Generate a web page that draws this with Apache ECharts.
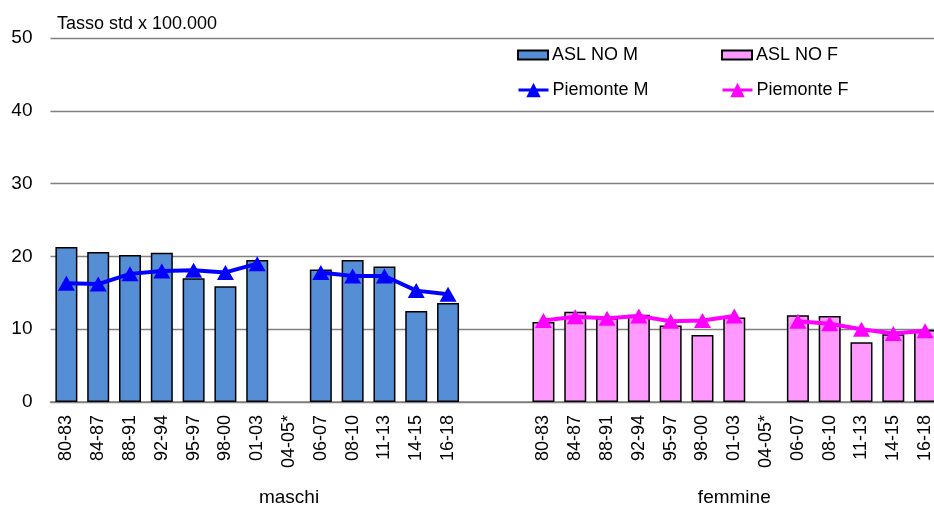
<!DOCTYPE html>
<html>
<head>
<meta charset="utf-8">
<script src="https://cdn.jsdelivr.net/npm/echarts@6/dist/echarts.min.js"></script>
<style>
html,body{margin:0;padding:0;background:#fff;}
#chart{width:934px;height:506px;}
</style>
</head>
<body>
<div id="chart"></div>
<script>
// Periods (tick labels)
const periods = ['80-83','84-87','88-91','92-94','95-97','98-00','01-03','04-05*','06-07','08-10','11-13','14-15','16-18'];
const groupLabels = ['maschi', 'femmine'];
// Values (tasso std x 100.000)
const aslM = [21.3, 20.6, 20.2, 20.5, 17.0, 15.9, 19.5, null, 18.2, 19.5, 18.6, 12.5, 13.6];
const pieM = [16.3, 16.2, 17.6, 18.0, 18.1, 17.8, 19.0, null, 17.8, 17.3, 17.3, 15.3, 14.8];
const aslF = [11.0, 12.4, 11.5, 12.0, 10.5, 9.2, 11.6, null, 11.9, 11.8, 8.2, 9.3, 9.9];
const pieF = [11.2, 11.7, 11.5, 11.8, 11.1, 11.2, 11.8, null, 11.1, 10.75, 10.0, 9.4, 9.8];
const yTicks = [0, 10, 20, 30, 40, 50];

// Build 28-slot category axis: male block, 2 empty slots, female block
const gap = [null, null];
const categories = periods.concat(['', ''], periods);
const fill = (arr) => arr.map(() => null);
const aslMData = aslM.concat(gap, fill(aslF));
const pieMData = pieM.concat(gap, fill(pieF));
const aslFData = fill(aslM).concat(gap, aslF);
const pieFData = fill(pieM).concat(gap, pieF);

const FONT = 'Liberation Sans, Arial, sans-serif';
const chart = echarts.init(document.getElementById('chart'), null, {renderer: 'canvas'});
const legendBase = {
  orient: 'vertical',
  itemGap: 18,
  textStyle: {fontFamily: FONT, fontSize: 18, color: '#000', padding: [0, 0, 0, -1]},
  itemWidth: 30
};
chart.setOption({
  animation: false,
  backgroundColor: '#fff',
  textStyle: {fontFamily: FONT},
  title: {
    text: 'Tasso std x 100.000',
    left: 52, top: 10,
    textStyle: {fontFamily: FONT, fontSize: 18, fontWeight: 'normal', color: '#000'}
  },
  legend: [
    Object.assign({}, legendBase, {left: 512, top: 41, itemHeight: 9, icon: 'rect', data: ['ASL NO M']}),
    Object.assign({}, legendBase, {left: 716, top: 41, itemHeight: 9, icon: 'rect', data: ['ASL NO F']}),
    Object.assign({}, legendBase, {left: 512, top: 76, itemHeight: 18, lineStyle: {width: 3}, data: ['Piemonte M']}),
    Object.assign({}, legendBase, {left: 716, top: 76, itemHeight: 18, lineStyle: {width: 3}, data: ['Piemonte F']})
  ],
  grid: {left: 50.5, width: 890.5, top: 38, bottom: 104, containLabel: false, outerBoundsMode: 'none'},
  xAxis: [{
    type: 'category',
    data: categories,
    boundaryGap: true,
    axisLine: {show: true, lineStyle: {color: '#808080', width: 1.5}},
    axisTick: {show: false},
    axisLabel: {rotate: 90, interval: 0, margin: 13, fontSize: 18, color: '#000', fontFamily: FONT}
  }, {
    type: 'category',
    data: categories,
    position: 'bottom',
    boundaryGap: true,
    axisLine: {show: false},
    axisTick: {show: false},
    splitLine: {show: false},
    axisLabel: {
      interval: 0, margin: 86, fontSize: 19, color: '#000', fontFamily: FONT,
      formatter: (v, i) => (i === 7 ? groupLabels[0] : (i === 21 ? groupLabels[1] : ''))
    }
  }],
  yAxis: {
    type: 'value',
    min: yTicks[0], max: yTicks[yTicks.length - 1], interval: 10,
    axisLine: {show: false},
    axisTick: {show: false},
    splitLine: {lineStyle: {color: '#808080', width: 1.3}},
    axisLabel: {margin: 18, fontSize: 19, color: '#000', fontFamily: FONT}
  },
  series: [
    {
      name: 'ASL NO M', type: 'bar', data: aslMData, barWidth: 22, barGap: '-100%',
      itemStyle: {color: '#558ED5', borderColor: '#000', borderWidth: 1.5}
    },
    {
      name: 'ASL NO F', type: 'bar', data: aslFData, barWidth: 22, barGap: '-100%',
      itemStyle: {color: '#FF99FF', borderColor: '#000', borderWidth: 1.5}
    },
    {
      name: 'Piemonte M', type: 'line', data: pieMData, connectNulls: false,
      symbol: 'triangle', symbolSize: [17, 15],
      lineStyle: {color: '#0000FF', width: 4},
      itemStyle: {color: '#0000FF'}
    },
    {
      name: 'Piemonte F', type: 'line', data: pieFData, connectNulls: false,
      symbol: 'triangle', symbolSize: [17, 15],
      lineStyle: {color: '#FF00FF', width: 4},
      itemStyle: {color: '#FF00FF'}
    }
  ]
});
</script>
</body>
</html>
